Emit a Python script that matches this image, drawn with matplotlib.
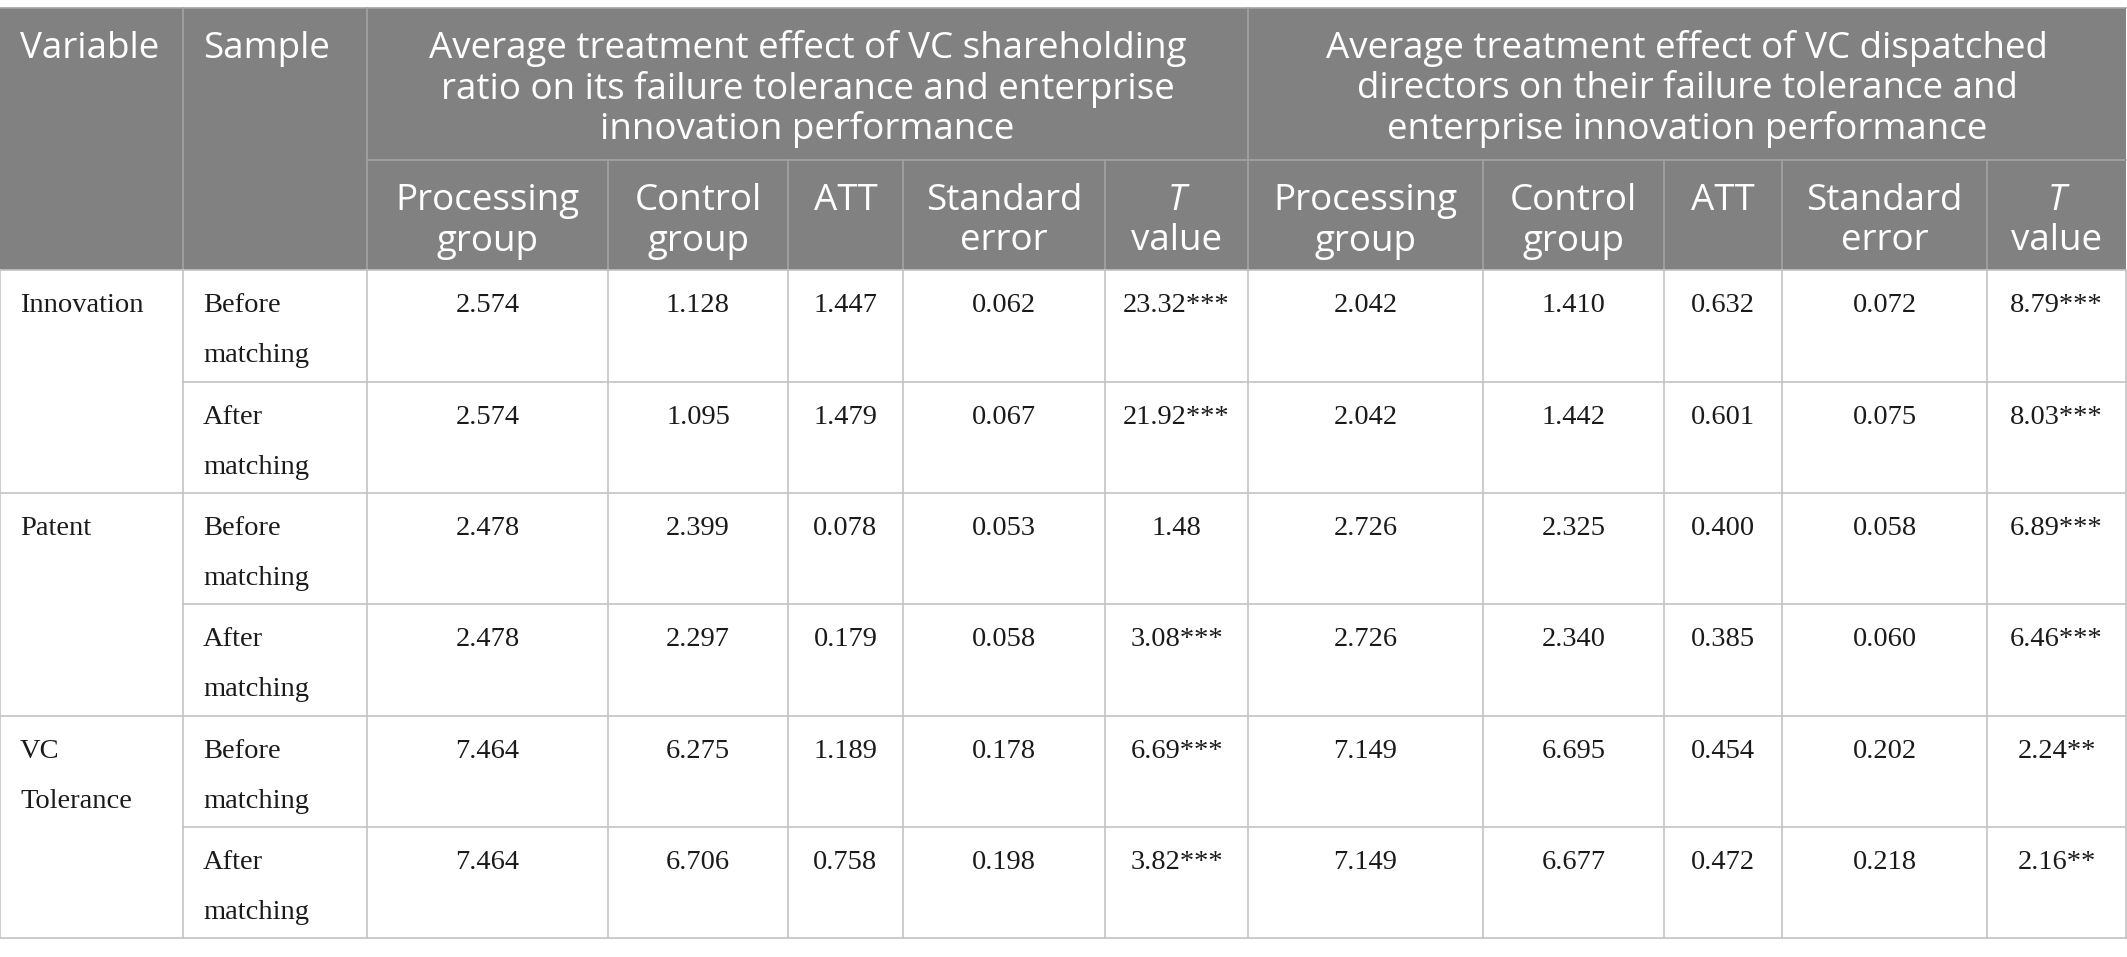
import matplotlib
matplotlib.use("Agg")
import matplotlib.pyplot as plt
from matplotlib.patches import Rectangle

# Table content
variables = ["Innovation", "Patent", "VC\nTolerance"]
samples = ["Before\nmatching", "After\nmatching"]
group_titles = [
    "Average treatment effect of VC shareholding\nratio on its failure tolerance and enterprise\ninnovation performance",
    "Average treatment effect of VC dispatched\ndirectors on their failure tolerance and\nenterprise innovation performance",
]
sub_headers = ["Processing\ngroup", "Control\ngroup", "ATT", "Standard\nerror", "T\nvalue"]

# shareholding ratio block (rows: Innovation before/after, Patent before/after, VC Tolerance before/after)
proc1 = ["2.574", "2.574", "2.478", "2.478", "7.464", "7.464"]
ctrl1 = ["1.128", "1.095", "2.399", "2.297", "6.275", "6.706"]
att1 = ["1.447", "1.479", "0.078", "0.179", "1.189", "0.758"]
se1 = ["0.062", "0.067", "0.053", "0.058", "0.178", "0.198"]
t1 = ["23.32***", "21.92***", "1.48", "3.08***", "6.69***", "3.82***"]

# dispatched directors block
proc2 = ["2.042", "2.042", "2.726", "2.726", "7.149", "7.149"]
ctrl2 = ["1.410", "1.442", "2.325", "2.340", "6.695", "6.677"]
att2 = ["0.632", "0.601", "0.400", "0.385", "0.454", "0.472"]
se2 = ["0.072", "0.075", "0.058", "0.060", "0.202", "0.218"]
t2 = ["8.79***", "8.03***", "6.89***", "6.46***", "2.24**", "2.16**"]

# Layout (pixels)
W, H = 2127, 957
col_x = [0, 183, 367, 608, 788, 903, 1105, 1248, 1483, 1664, 1782, 1987, 2126]
row_y = [8, 160, 270, 382, 493, 604, 716, 827, 938]

head_bg = "#808180"
head_line = "#a3a3a3"
body_line = "#c3c3c3"
head_font = "Open Sans"
body_font = "Liberation Serif"
hfs = 26.5
bfs = 20.5
pad = 20

fig = plt.figure(figsize=(W / 100, H / 100), dpi=100)
ax = fig.add_axes([0, 0, 1, 1])
ax.set_xlim(0, W)
ax.set_ylim(H, 0)
ax.axis("off")

# header background
ax.add_patch(Rectangle((col_x[0], row_y[0]), col_x[-1] - col_x[0], row_y[2] - row_y[0],
                       facecolor=head_bg, edgecolor="none"))

# header grid
lw = 1.2
ax.plot([col_x[0], col_x[-1]], [row_y[0], row_y[0]], color=head_line, lw=lw)
ax.plot([col_x[2], col_x[-1]], [row_y[1], row_y[1]], color=head_line, lw=lw)
for i in [1, 2, 7]:
    ax.plot([col_x[i], col_x[i]], [row_y[0], row_y[2]], color=head_line, lw=lw)
for i in [3, 4, 5, 6, 8, 9, 10, 11]:
    ax.plot([col_x[i], col_x[i]], [row_y[1], row_y[2]], color=head_line, lw=lw)

# body grid
ax.plot([col_x[0], col_x[-1]], [row_y[2], row_y[2]], color=body_line, lw=lw)
for r in range(3, 9):
    x0 = col_x[1] if r % 2 == 1 else col_x[0]
    ax.plot([x0, col_x[-1]], [row_y[r], row_y[r]], color=body_line, lw=lw)
for i in range(13):
    ax.plot([col_x[i], col_x[i]], [row_y[2], row_y[8]], color=body_line, lw=lw)

def lines_at(x, top, text, first, step, ha, **kw):
    for k, line in enumerate(text.split("\n")):
        ax.text(x, top + first + k * step, line, ha=ha, va="baseline", **kw)

# header text
hkw = dict(color="white", fontsize=hfs, family=head_font)
lines_at(col_x[0] + pad, row_y[0], "Variable", 50, 40.5, "left", **hkw)
lines_at(col_x[1] + pad, row_y[0], "Sample", 50, 40.5, "left", **hkw)
for g, title in enumerate(group_titles):
    a, b = col_x[2 + 5 * g], col_x[7 + 5 * g]
    lines_at((a + b) / 2, row_y[0], title, 50, 40.5, "center", **hkw)
    for j, sh in enumerate(sub_headers):
        c0, c1 = col_x[2 + 5 * g + j], col_x[3 + 5 * g + j]
        xc = (c0 + c1) / 2
        if sh.startswith("T\n"):
            ax.text(xc, row_y[1] + 50, "T", ha="center", va="baseline",
                    style="italic", **hkw)
            ax.text(xc, row_y[1] + 90.5, "value", ha="center", va="baseline", **hkw)
        else:
            lines_at(xc, row_y[1], sh, 50, 40.5, "center", **hkw)

# body text
bkw = dict(color="#1a1a1a", fontsize=bfs, family=body_font)
blocks = [proc1, ctrl1, att1, se1, t1, proc2, ctrl2, att2, se2, t2]
for v, name in enumerate(variables):
    lines_at(col_x[0] + pad, row_y[2 + 2 * v], name, 42, 50, "left", **bkw)
for r in range(6):
    top = row_y[2 + r]
    lines_at(col_x[1] + pad, top, samples[r % 2], 42, 50, "left", **bkw)
    for j, col in enumerate(blocks):
        xc = (col_x[2 + j] + col_x[3 + j]) / 2
        lines_at(xc, top, col[r], 42, 50, "center", **bkw)

fig.savefig("out.png", dpi=100, facecolor="white")
